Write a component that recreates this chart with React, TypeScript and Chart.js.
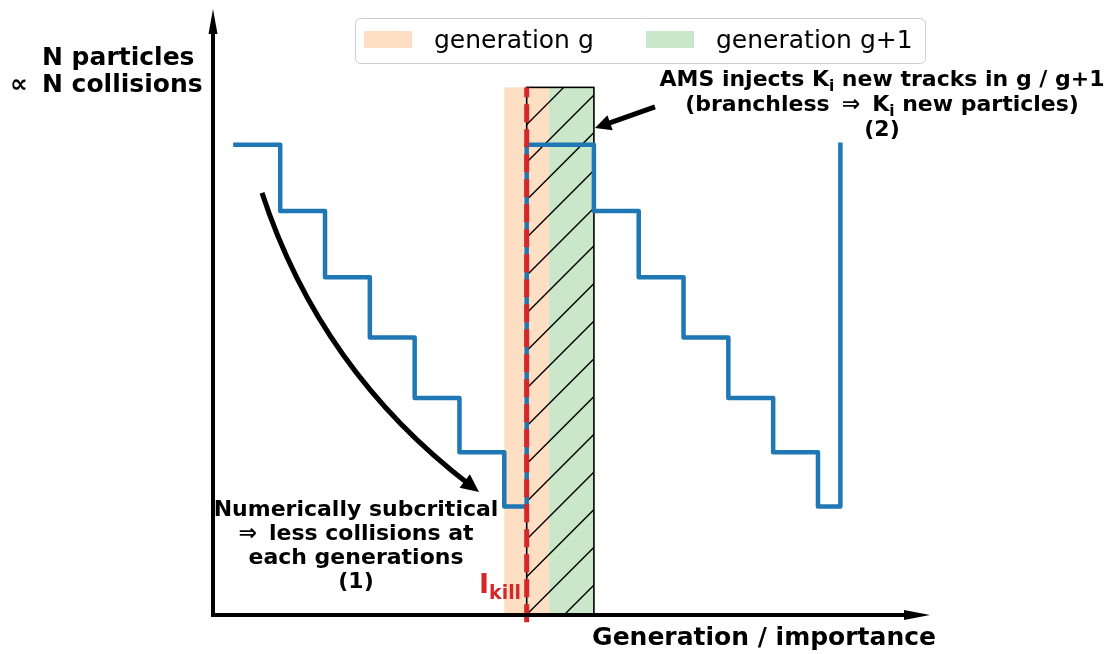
import React, { useEffect, useRef } from "react";
import { Chart, registerables } from "chart.js";

Chart.register(...registerables);

// ---- data ----
const stepX = [0.5, 1.5, 2.5, 3.5, 4.5, 5.5, 6.5, 7, 8.5, 9.5, 10.5, 11.5, 12.5, 13.5, 14];
const stepY = [78, 67, 56, 46, 36, 27, 18, 78, 67, 56, 46, 36, 27, 18, 78];
const legendLabels = ["generation g", "generation g+1"];
const bandStart = [6.5, 7.5];
const bandEnd = [7.5, 8.5];
const bandTop = 87.5;
const hatchFrom = 7;
const hatchTo = 8.5;
const killX = 7;
const xMax = 16;
const yMax = 100;

const FONT = "'DejaVu Sans'";
const BLUE = "#1f77b4";
const RED = "#d62728";
const BAND_COLORS = ["rgba(255,127,14,0.25)", "rgba(44,160,44,0.25)"];

type Seg = [string, boolean];

function drawRich(ctx: CanvasRenderingContext2D, segs: Seg[], x: number, y: number, size: number, align: "left" | "center", color: string, weight = "bold") {
  const widths = segs.map(([t, sub]) => {
    ctx.font = `${weight} ${sub ? size * 0.7 : size}px ${FONT}`;
    return ctx.measureText(t).width;
  });
  const total = widths.reduce((a, b) => a + b, 0);
  let cx = align === "center" ? x - total / 2 : x;
  ctx.fillStyle = color;
  ctx.textAlign = "left";
  ctx.textBaseline = "alphabetic";
  segs.forEach(([t, sub], i) => {
    ctx.font = `${weight} ${sub ? size * 0.7 : size}px ${FONT}`;
    ctx.fillText(t, cx, sub ? y + size * 0.22 : y);
    cx += widths[i];
  });
}

function arrowHead(ctx: CanvasRenderingContext2D, tx: number, ty: number, dx: number, dy: number, len: number, half: number) {
  const n = Math.hypot(dx, dy);
  const ux = dx / n, uy = dy / n;
  const bx = tx - ux * len, by = ty - uy * len;
  ctx.beginPath();
  ctx.moveTo(tx, ty);
  ctx.lineTo(bx - uy * half, by + ux * half);
  ctx.lineTo(bx + uy * half, by - ux * half);
  ctx.closePath();
  ctx.fill();
}

const overlay = {
  id: "overlay",
  beforeDatasetsDraw(chart: any) {
    const { ctx, scales } = chart;
    const X = (v: number) => scales.x.getPixelForValue(v);
    const Y = (v: number) => scales.y.getPixelForValue(v);
    ctx.save();
    bandStart.forEach((s, i) => {
      ctx.fillStyle = BAND_COLORS[i];
      ctx.fillRect(X(s), Y(bandTop), X(bandEnd[i]) - X(s), Y(0) - Y(bandTop));
    });
    const hx0 = X(hatchFrom), hx1 = X(hatchTo), hy0 = Y(bandTop), hy1 = Y(0);
    ctx.save();
    ctx.beginPath();
    ctx.rect(hx0, hy0, hx1 - hx0, hy1 - hy0);
    ctx.clip();
    ctx.strokeStyle = "#000";
    ctx.lineWidth = 1.4;
    const spacing = 37.7, phase = 10.3;
    let c = phase + Math.floor((hx0 + hy0 - phase) / spacing) * spacing;
    for (; c <= hx1 + hy1 + spacing; c += spacing) {
      ctx.beginPath();
      ctx.moveTo(c - hy1, hy1);
      ctx.lineTo(c - hy0, hy0);
      ctx.stroke();
    }
    ctx.restore();
    ctx.strokeStyle = "#000";
    ctx.lineWidth = 1.6;
    ctx.strokeRect(hx0, hy0, hx1 - hx0, hy1 - hy0);
    ctx.restore();
  },
  afterDatasetsDraw(chart: any) {
    const { ctx, scales } = chart;
    const X = (v: number) => scales.x.getPixelForValue(v);
    const Y = (v: number) => scales.y.getPixelForValue(v);
    ctx.save();

    // red kill line
    ctx.strokeStyle = RED;
    ctx.lineWidth = 5;
    ctx.setLineDash([18, 7]);
    ctx.beginPath();
    ctx.moveTo(X(killX), Y(-1.2));
    ctx.lineTo(X(killX), Y(bandTop));
    ctx.stroke();
    ctx.setLineDash([]);

    // axes with arrows
    ctx.strokeStyle = "#000";
    ctx.fillStyle = "#000";
    ctx.lineWidth = 4;
    ctx.lineCap = "butt";
    const ox = X(0), oy = Y(0);
    const ytip = Y(100.5);
    ctx.beginPath();
    ctx.moveTo(ox, oy + 2);
    ctx.lineTo(ox, ytip + 20);
    ctx.stroke();
    arrowHead(ctx, ox, ytip, 0, -1, 25, 4.5);
    const xtip = X(xMax);
    ctx.beginPath();
    ctx.moveTo(ox - 2, oy);
    ctx.lineTo(xtip - 20, oy);
    ctx.stroke();
    arrowHead(ctx, xtip, oy, 1, 0, 26, 5);

    // curved arrow (1)
    const p0 = [X(1.094), Y(70.0)];
    const pc = [X(2.388), Y(40.6)];
    const p2 = [X(5.936), Y(20.4)];
    const dx = p2[0] - pc[0], dy = p2[1] - pc[1];
    const dn = Math.hypot(dx, dy);
    ctx.lineWidth = 5;
    ctx.beginPath();
    ctx.moveTo(p0[0], p0[1]);
    ctx.quadraticCurveTo(pc[0], pc[1], p2[0] - (dx / dn) * 12, p2[1] - (dy / dn) * 12);
    ctx.stroke();
    arrowHead(ctx, p2[0], p2[1], dx, dy, 18, 8.5);

    // straight arrow (2)
    const t0 = [X(9.863), Y(84.25)];
    const t1 = [X(8.524), Y(80.76)];
    const sdx = t1[0] - t0[0], sdy = t1[1] - t0[1];
    const sn = Math.hypot(sdx, sdy);
    ctx.beginPath();
    ctx.moveTo(t0[0], t0[1]);
    ctx.lineTo(t1[0] - (sdx / sn) * 12, t1[1] - (sdy / sn) * 12);
    ctx.stroke();
    arrowHead(ctx, t1[0], t1[1], sdx, sdy, 16, 8);

    // axis labels
    drawRich(ctx, [["N particles", false]], X(-3.816), Y(91.21), 25, "left", "#000");
    drawRich(ctx, [["N collisions", false]], X(-3.816), Y(86.73), 25, "left", "#000");
    drawRich(ctx, [["\u221d", false]], X(-4.53), Y(86.73), 25, "left", "#000");
    drawRich(ctx, [["Generation / importance", false]], X(8.46), Y(-4.975), 25, "left", "#000");

    // annotation (2)
    const cx2 = X(14.929);
    drawRich(ctx, [["AMS injects K", false], ["i", true], [" new tracks in g / g+1", false]], cx2, Y(87.73), 22, "center", "#000");
    drawRich(ctx, [["(branchless \u2009\u21d2\u2009 K", false], ["i", true], [" new particles)", false]], cx2, Y(83.58), 22, "center", "#000");
    drawRich(ctx, [["(2)", false]], cx2, Y(79.44), 22, "center", "#000");

    // annotation (1)
    const cx1 = X(3.191);
    drawRich(ctx, [["Numerically subcritical", false]], cx1, Y(16.42), 22, "center", "#000");
    drawRich(ctx, [["\u21d2\u2009 less collisions at", false]], cx1, Y(12.44), 22, "center", "#000");
    drawRich(ctx, [["each generations", false]], cx1, Y(8.46), 22, "center", "#000");
    drawRich(ctx, [["(1)", false]], cx1, Y(4.48), 22, "center", "#000");

    // l_kill
    drawRich(ctx, [["I", false], ["kill", true]], X(5.937), Y(3.648), 27, "left", RED);

    // legend
    const lx0 = 355, ly0 = 18, lx1 = 925, ly1 = 63;
    ctx.fillStyle = "rgba(255,255,255,0.8)";
    ctx.strokeStyle = "#cccccc";
    ctx.lineWidth = 1;
    ctx.beginPath();
    (ctx as any).roundRect(lx0 + 0.5, ly0 + 0.5, lx1 - lx0, ly1 - ly0, 5);
    ctx.fill();
    ctx.stroke();
    const patchX = [364, 646];
    legendLabels.forEach((lab, i) => {
      ctx.fillStyle = BAND_COLORS[i];
      ctx.fillRect(patchX[i], 31, 48, 17);
      drawRich(ctx, [[lab, false]], patchX[i] + 70, 48, 25, "left", "#000", "normal");
    });

    ctx.restore();
  },
};

export default function App() {
  const ref = useRef<HTMLCanvasElement>(null);
  useEffect(() => {
    if (!ref.current) return;
    const chart = new Chart(ref.current, {
      type: "line",
      data: {
        datasets: [
          {
            data: stepX.map((x, i) => ({ x, y: stepY[i] })),
            borderColor: BLUE,
            borderWidth: 4.5,
            stepped: "before",
            pointRadius: 0,
            fill: false,
            borderJoinStyle: "round",
            borderCapStyle: "square",
          } as any,
        ],
      },
      options: {
        animation: false,
        responsive: false,
        maintainAspectRatio: false,
        layout: { padding: { left: 213, right: 182, top: 12, bottom: 39 } },
        scales: {
          x: { type: "linear", min: 0, max: xMax, display: false },
          y: { type: "linear", min: 0, max: yMax, display: false },
        },
        plugins: { legend: { display: false }, tooltip: { enabled: false } },
        events: [],
      },
      plugins: [overlay],
    });
    return () => chart.destroy();
  }, []);
  return (
    <div style={{ position: "absolute", left: 0, top: 0, width: 1112, height: 654, background: "#fff" }}>
      <canvas ref={ref} width={1112} height={654} style={{ display: "block" }} />
    </div>
  );
}
